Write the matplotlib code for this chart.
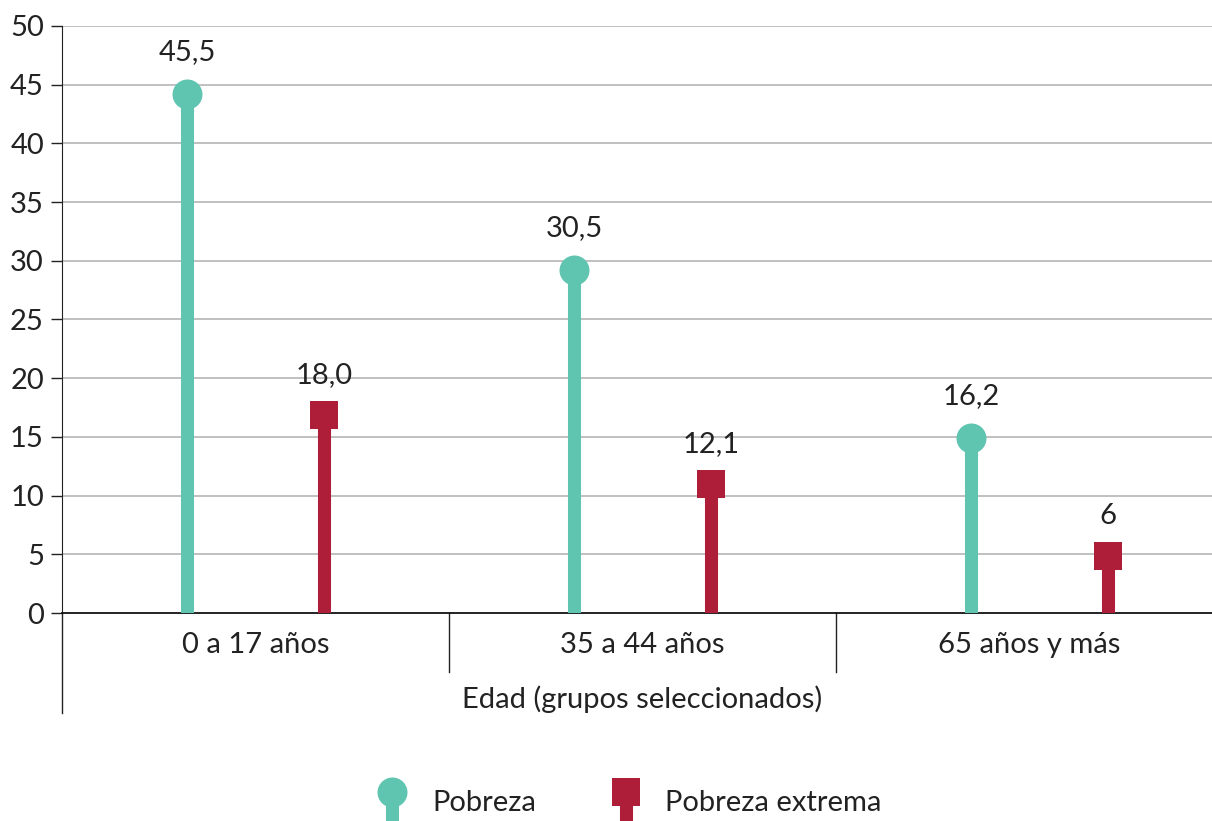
import matplotlib.pyplot as plt
from matplotlib.lines import Line2D
import numpy as np

# Data
grupos = ["0 a 17 años", "35 a 44 años", "65 años y más"]
pobreza = [45.5, 30.5, 16.2]
pobreza_extrema = [18.0, 12.1, 6.0]
etiq_pobreza = ["45,5", "30,5", "16,2"]
etiq_extrema = ["18,0", "12,1", "6"]
yticks = [0, 5, 10, 15, 20, 25, 30, 35, 40, 45, 50]

verde = "#5FC5B1"
rojo = "#AE1E38"
texto = "#222222"
fs = 21
plt.rcParams['font.family'] = ['Lato', 'DejaVu Sans']

W, H = 1212, 821
fig = plt.figure(figsize=(W / 100, H / 100), dpi=100)
ax = fig.add_axes([62 / W, 208 / H, 1150 / W, 587 / H])

ax.set_ylim(0, 50)
ax.set_xlim(-0.5, -0.5 + 1150 / 387)
x = np.arange(len(grupos))
# stems of the last group sit a little to the right in the original
xs = np.array([0, 1, 2 + 10 / 387])
off = 68.5 / 387

# pixels per data unit on y, to put the top of each marker at its value
px_unit = ax.transData.transform((0, 1))[1] - ax.transData.transform((0, 0))[1]
r_circ = 15 / px_unit
r_sq = 13.5 / px_unit

for xi, v in zip(xs - off, pobreza):
    ax.plot([xi, xi], [0, v - r_circ], color=verde, lw=9.4, solid_capstyle='butt', zorder=3)
    ax.plot([xi], [v - r_circ], marker='o', ms=21.6, color=verde, mew=0, zorder=4)
for xi, v in zip(xs + off, pobreza_extrema):
    ax.plot([xi, xi], [0, v - r_sq], color=rojo, lw=9.4, solid_capstyle='butt', zorder=3)
    ax.plot([xi], [v - r_sq], marker='s', ms=19.5, color=rojo, mew=0, zorder=4)

for xi, v, t in zip(xs - off, pobreza, etiq_pobreza):
    ax.annotate(t, (xi, v), xytext=(0, 10), textcoords='offset points',
                ha='center', va='bottom', fontsize=fs, color=texto)
for xi, v, t in zip(xs + off, pobreza_extrema, etiq_extrema):
    ax.annotate(t, (xi, v), xytext=(0, 10), textcoords='offset points',
                ha='center', va='bottom', fontsize=fs, color=texto)

# axes styling
ax.set_yticks(yticks)
ax.set_yticklabels([str(t) for t in yticks], fontsize=fs, color=texto)
ax.tick_params(axis='y', length=8, width=1, color=texto, pad=5)
ax.set_xticks([])
for yt in yticks[1:]:
    ax.axhline(yt, color='#b5b5b5', lw=1.2, zorder=1)
ax.spines['top'].set_visible(False)
ax.spines['right'].set_visible(False)
ax.spines['left'].set_color(texto)
ax.spines['bottom'].set_color('#111111')
ax.spines['bottom'].set_linewidth(1.3)

# category boxes below the axis
trans = ax.get_xaxis_transform()
for sep in [0.5, 1.5]:
    ax.plot([sep, sep], [0, -59 / 587], transform=trans, color=texto, lw=1, clip_on=False)
ax.plot([-0.5, -0.5], [0, -100 / 587], transform=trans, color=texto, lw=1, clip_on=False)
for xi, g in zip(x, grupos):
    ax.text(xi, -32 / 587, g, transform=trans, ha='center', va='center', fontsize=fs, color=texto)
ax.text(1.0, -86 / 587, "Edad (grupos seleccionados)", transform=trans,
        ha='center', va='center', fontsize=fs, color=texto)

# legend drawn by hand: marker with a short stem
def fy(p):
    return 1 - p / H

fig.add_artist(Line2D([392 / W, 392 / W], [fy(792), 0], color=verde, lw=9.4, solid_capstyle='butt'))
fig.add_artist(Line2D([392 / W], [fy(792)], marker='o', ms=21.6, color=verde, mew=0))
fig.text(432 / W, fy(803), "Pobreza", ha='left', va='center', fontsize=fs, color=texto)
fig.add_artist(Line2D([626 / W, 626 / W], [fy(792), 0], color=rojo, lw=9.4, solid_capstyle='butt'))
fig.add_artist(Line2D([626 / W], [fy(792)], marker='s', ms=19.5, color=rojo, mew=0))
fig.text(665 / W, fy(803), "Pobreza extrema", ha='left', va='center', fontsize=fs, color=texto)

fig.savefig("out.png", dpi=100)
